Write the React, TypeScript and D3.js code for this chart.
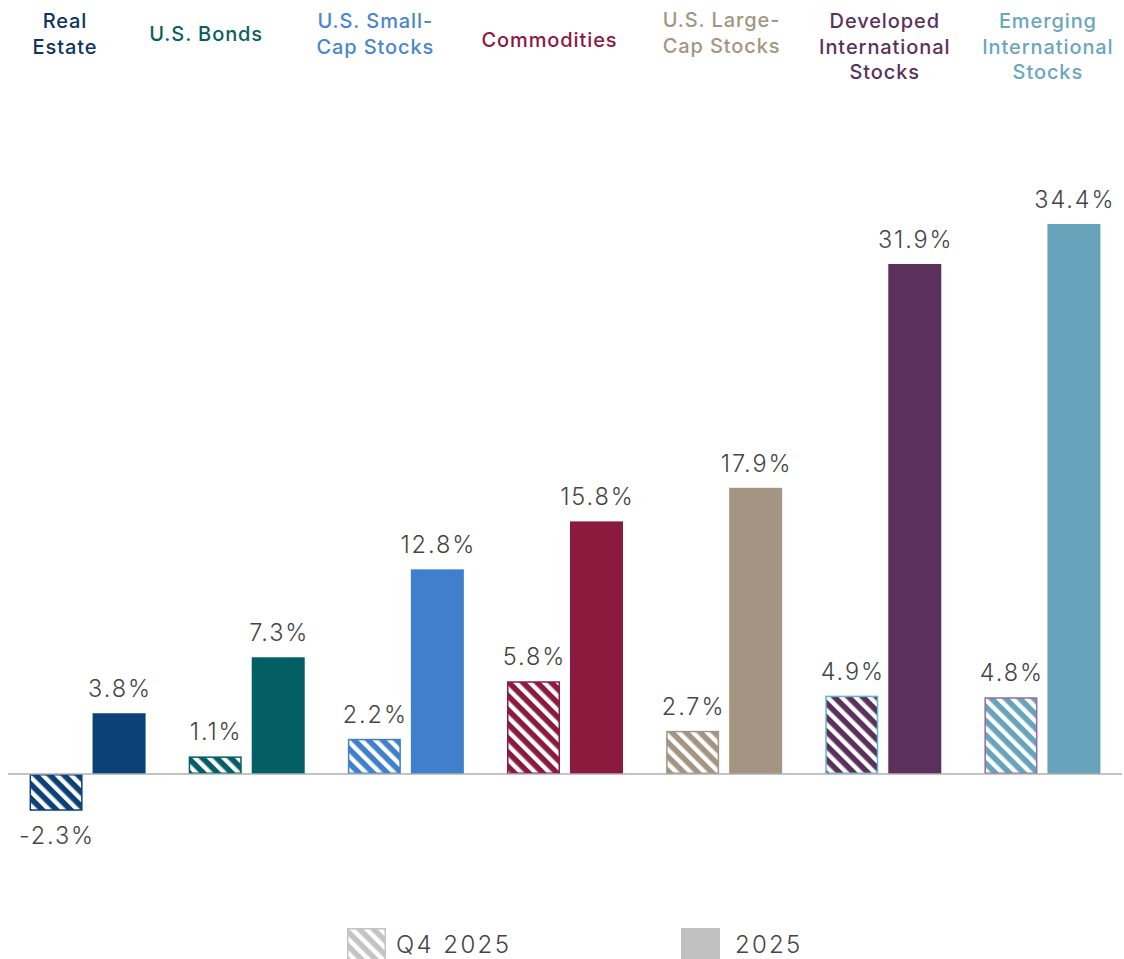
import React from "react";
import * as d3 from "d3";

const categories = [
  "Real Estate",
  "U.S. Bonds",
  "U.S. Small-Cap Stocks",
  "Commodities",
  "U.S. Large-Cap Stocks",
  "Developed International Stocks",
  "Emerging International Stocks",
];
const headerLines = [
  ["Real", "Estate"],
  ["U.S. Bonds"],
  ["U.S. Small-", "Cap Stocks"],
  ["Commodities"],
  ["U.S. Large-", "Cap Stocks"],
  ["Developed", "International", "Stocks"],
  ["Emerging", "International", "Stocks"],
];
const q4Values = [-2.3, 1.1, 2.2, 5.8, 2.7, 4.9, 4.8];
const yearValues = [3.8, 7.3, 12.8, 15.8, 17.9, 31.9, 34.4];
const seriesNames = ["Q4 2025", "2025"];
const colors = ["#0B4177", "#035F63", "#3F7FCB", "#8B1A3F", "#A49582", "#5B315C", "#67A3BA"];
const labelColors = ["#0D3560", "#0A5E60", "#4A86CF", "#8B1A3F", "#A49582", "#5B315C", "#6AA6BE"];
const q4Borders = ["#0B4177", "#035F63", "#3F7FCB", "#8B1A3F", "#A49582", "#5CB8D0", "#8E6BAA"];

const W = 1124;
const H = 959;
const headerDx = [-23, -41, -31, -16, -3, 1, 5];
const headerY = [21, 34, 21, 40, 20, 21, 21];

export default function App() {
  const x = d3.scaleBand<string>().domain(categories).range([8, 1122]).paddingInner(0).paddingOuter(0);
  const sub = d3.scaleBand<string>().domain(seriesNames).range([-58, 58]).paddingInner(10 / 63).paddingOuter(0);
  const y = d3.scaleLinear().domain([0, 34.4]).range([774, 224]);
  const fmt = (v: number) => `${v.toFixed(1)}%`;
  const valueFont = "Inter, 'Noto Sans', sans-serif";
  const headFont = "Inter, 'Noto Sans', sans-serif";
  const vls = 1.9;
  const hls = 0.9;

  return (
    <svg width={W} height={H} style={{ position: "absolute", left: 0, top: 0, display: "block" }}>
      <defs>
        {colors.map((c, i) => (
          <pattern key={i} id={`hatch${i}`} patternUnits="userSpaceOnUse" width={10} height={10} patternTransform="rotate(45)">
            <rect width={10} height={10} fill="#fff" />
            <rect width={10} height={5.6} fill={c} />
          </pattern>
        ))}
        <pattern id="hatchLegend" patternUnits="userSpaceOnUse" width={10} height={10} patternTransform="rotate(45)">
          <rect width={10} height={10} fill="#fff" />
          <rect width={10} height={5.6} fill="#C4C4C4" />
        </pattern>
      </defs>
      <rect width={W} height={H} fill="#fff" />

      {categories.map((cat, i) => {
        const cx = (x(cat) as number) + x.bandwidth() / 2 + headerDx[i] + hls / 2;
        const lines = headerLines[i];
        return (
          <text key={`h${i}`} x={cx} y={headerY[i]} textAnchor="middle" dominantBaseline="central"
            fontFamily={headFont} fontWeight={500} fontSize={20} letterSpacing={hls} fill={labelColors[i]}>
            {lines.map((l, j) => (
              <tspan key={j} x={cx} dy={j === 0 ? 0 : 25.5}>{l}</tspan>
            ))}
          </text>
        );
      })}

      {categories.map((cat, i) => {
        const cx = (x(cat) as number) + x.bandwidth() / 2;
        const qx = cx + (sub("Q4 2025") as number);
        const yx = cx + (sub("2025") as number);
        const bw = sub.bandwidth();
        const qv = q4Values[i];
        const yv = yearValues[i];
        const qTop = Math.min(y(qv), y(0));
        const qH = Math.abs(y(qv) - y(0));
        return (
          <g key={`b${i}`}>
            <rect x={qx + 0.75} y={qTop + 0.75} width={bw - 1.5} height={Math.max(qH - 1.5, 0)}
              fill={`url(#hatch${i})`} stroke={q4Borders[i]} strokeWidth={1.5} />
            <rect x={yx} y={y(yv)} width={bw} height={y(0) - y(yv)} fill={colors[i]} />
            <text x={qx + bw / 2 + vls / 2} y={qv >= 0 ? y(qv) - 16 : y(qv) + 33} textAnchor="middle"
              fontFamily={valueFont} fontWeight={300} fontSize={23.5} letterSpacing={vls} fill="#454545">{fmt(qv)}</text>
            <text x={yx + bw / 2 + vls / 2} y={y(yv) - 16} textAnchor="middle"
              fontFamily={valueFont} fontWeight={300} fontSize={23.5} letterSpacing={vls} fill="#454545">{fmt(yv)}</text>
          </g>
        );
      })}

      <line x1={8} x2={1122} y1={y(0)} y2={y(0)} stroke="#AFAFAF" strokeWidth={1.5} />

      <g>
        <rect x={347.75} y={928.75} width={37.5} height={40} fill="url(#hatchLegend)" stroke="#C4C4C4" strokeWidth={1.5} />
        <text x={396} y={944} dominantBaseline="central" fontFamily={valueFont} fontWeight={300} fontSize={24} letterSpacing={2.4} fill="#454545">{seriesNames[0]}</text>
        <rect x={681} y={928} width={39} height={40} fill="#C0C0C0" />
        <text x={735} y={944} dominantBaseline="central" fontFamily={valueFont} fontWeight={300} fontSize={24} letterSpacing={2.2} fill="#454545">{seriesNames[1]}</text>
      </g>
    </svg>
  );
}
